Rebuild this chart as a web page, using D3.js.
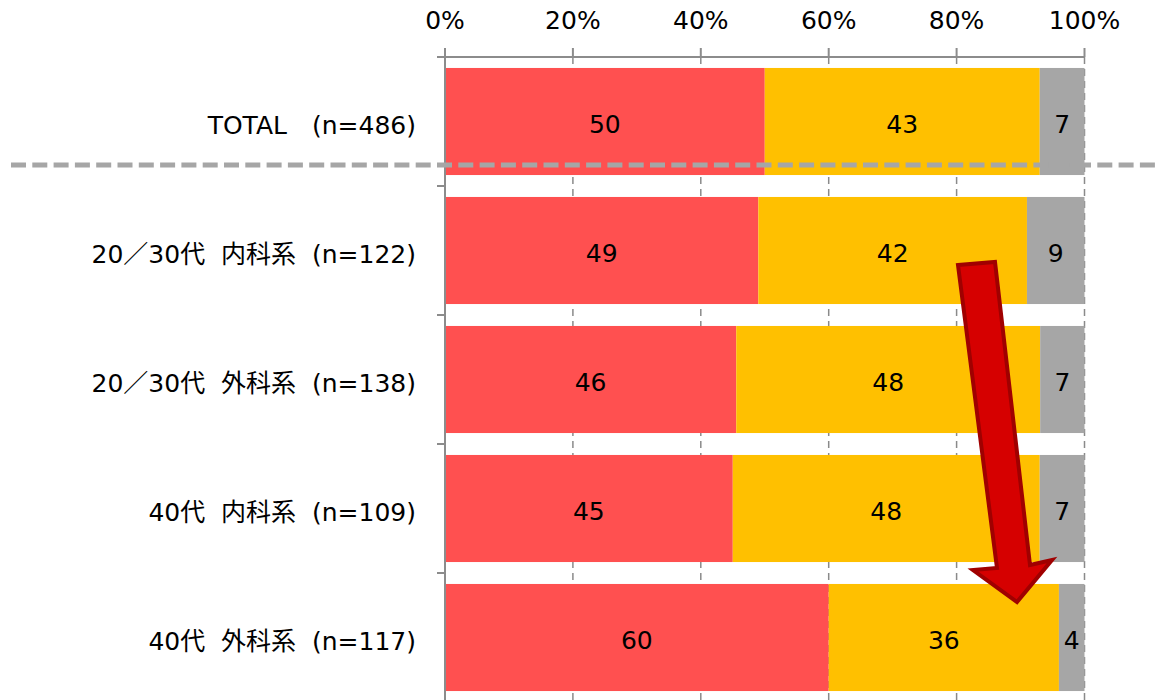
<!DOCTYPE html>
<html>
<head>
<meta charset="utf-8">
<script src="https://cdn.jsdelivr.net/npm/d3@7"></script>
<style>
  html, body { margin: 0; padding: 0; background: #fff; }
  svg { display: block; }
  text { font-family: "DejaVu Sans", "Noto Sans CJK JP", sans-serif; white-space: pre; }
</style>
</head>
<body>
<svg id="chart" width="1160" height="700"></svg>
<script>
// Categories (rows) and the three stacked series, in percent
const categories = [
  "TOTAL\u3000(n=486)",
  "20／30代  内科系  (n=122)",
  "20／30代  外科系  (n=138)",
  "40代  内科系  (n=109)",
  "40代  外科系  (n=117)"
];
const seriesRed    = [50, 49, 46, 45, 60];
const seriesYellow = [43, 42, 48, 48, 36];
const seriesGray   = [7, 9, 7, 7, 4];
const tickValues   = [0, 20, 40, 60, 80, 100];
const tickLabels   = ["0%", "20%", "40%", "60%", "80%", "100%"];

const seriesColors = ["#FF5050", "#FFC000", "#A6A6A6"];

const svg = d3.select("#chart");
const plotLeft = 445, plotRight = 1084.5, plotTop = 57, plotBottom = 702;

const x = d3.scaleLinear().domain([0, 100]).range([plotLeft, plotRight]);
const y = d3.scaleBand().domain(categories).range([plotTop, plotBottom])
  .paddingInner(0.17).paddingOuter(0.085);

// Build rows: each row's segments stacked as a share of the row total
const rows = categories.map((c, i) => {
  const vals = [seriesRed[i], seriesYellow[i], seriesGray[i]];
  const total = d3.sum(vals);
  let acc = 0;
  return {
    cat: c,
    segs: vals.map((v, k) => {
      const s = { v, k, x0: acc / total * 100, x1: (acc + v) / total * 100 };
      acc += v;
      return s;
    })
  };
});

// Vertical dashed gridlines
svg.append("g").selectAll("line")
  .data(tickValues.filter(t => t > 0))
  .join("line")
  .attr("x1", d => x(d)).attr("x2", d => x(d))
  .attr("y1", plotTop).attr("y2", 700)
  .attr("stroke", "#8a8a8a").attr("stroke-width", 1.5)
  .attr("stroke-dasharray", "7,5");

// Bars
const rowG = svg.append("g").selectAll("g").data(rows).join("g")
  .attr("transform", d => `translate(0,${y(d.cat)})`);

rowG.selectAll("rect").data(d => d.segs).join("rect")
  .attr("x", d => x(d.x0))
  .attr("width", d => x(d.x1) - x(d.x0))
  .attr("y", 0)
  .attr("height", y.bandwidth())
  .attr("fill", d => seriesColors[d.k]);

rowG.selectAll("text").data(d => d.segs).join("text")
  .attr("x", d => (x(d.x0) + x(d.x1)) / 2)
  .attr("y", y.bandwidth() / 2 + 12)
  .attr("text-anchor", "middle")
  .attr("font-size", 25)
  .attr("fill", "#000")
  .text(d => d.v);

// Top axis
const axisColor = "#8c8c8c";
svg.append("line")
  .attr("x1", plotLeft - 8).attr("x2", plotRight)
  .attr("y1", plotTop).attr("y2", plotTop)
  .attr("stroke", axisColor).attr("stroke-width", 2);
svg.append("g").selectAll("line").data(tickValues).join("line")
  .attr("x1", d => x(d)).attr("x2", d => x(d))
  .attr("y1", plotTop).attr("y2", plotTop - 9)
  .attr("stroke", axisColor).attr("stroke-width", 2);
svg.append("g").selectAll("text").data(tickValues).join("text")
  .attr("x", d => x(d))
  .attr("y", 29)
  .attr("text-anchor", "middle")
  .attr("font-size", 25)
  .attr("fill", "#000")
  .text((d, i) => tickLabels[i]);

// Left axis with ticks at category boundaries
svg.append("line")
  .attr("x1", plotLeft).attr("x2", plotLeft)
  .attr("y1", plotTop).attr("y2", 700)
  .attr("stroke", axisColor).attr("stroke-width", 2);
const step = y.step();
svg.append("g").selectAll("line")
  .data(d3.range(categories.length + 1))
  .join("line")
  .attr("x1", plotLeft - 8).attr("x2", plotLeft)
  .attr("y1", i => plotTop + i * step).attr("y2", i => plotTop + i * step)
  .attr("stroke", axisColor).attr("stroke-width", 2);

// Category labels
svg.append("g").selectAll("text").data(categories).join("text")
  .attr("x", 416)
  .attr("y", d => y(d) + y.bandwidth() / 2 + 12)
  .attr("text-anchor", "end")
  .attr("font-size", 25)
  .attr("fill", "#000")
  .text(d => d);

// Separator under the TOTAL row
svg.append("line")
  .attr("x1", 11).attr("x2", 1160)
  .attr("y1", 165).attr("y2", 165)
  .attr("stroke", "#A6A6A6").attr("stroke-width", 5)
  .attr("stroke-dasharray", "15,6.3");

// Downward arrow annotation
const arrowPts = [
  [958, 265], [995, 262], [1030, 565], [1052, 560],
  [1017, 602], [973, 570], [997, 568]
];
svg.append("polygon")
  .attr("points", arrowPts.map(p => p.join(",")).join(" "))
  .attr("fill", "#D60000")
  .attr("stroke", "#A00000")
  .attr("stroke-width", 4)
  .attr("stroke-linejoin", "miter");
</script>
</body>
</html>
